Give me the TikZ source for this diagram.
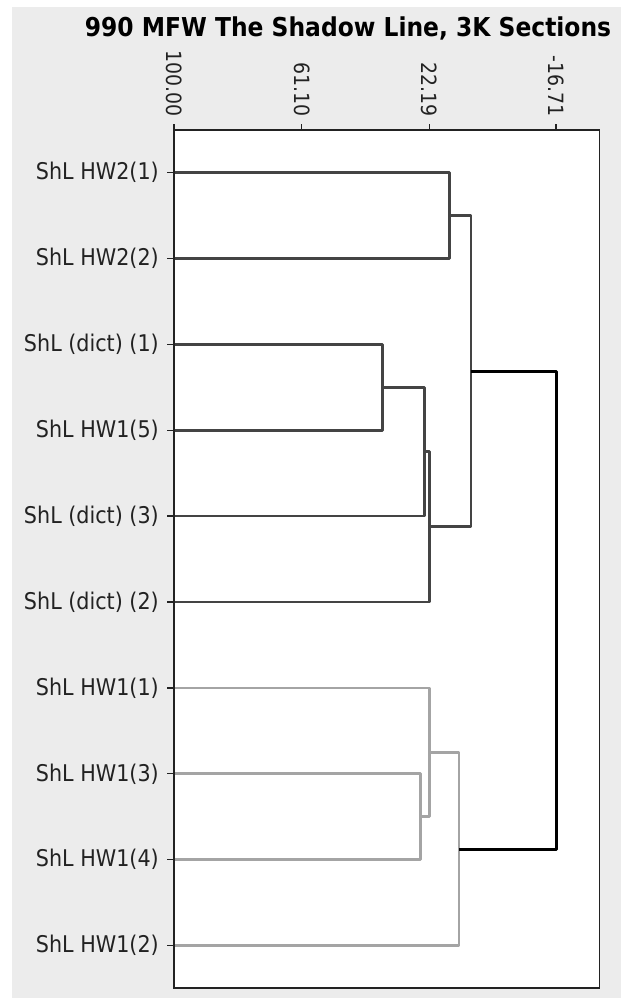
\documentclass[tikz,border=0pt]{standalone}
\usepackage{fontspec}
\newfontfamily\labfont[FakeStretch=0.9]{DejaVu Sans}
\definecolor{bg}{HTML}{ECECEC}
\definecolor{dk}{HTML}{444444}
\definecolor{lt}{HTML}{A4A4A4}
\definecolor{txt}{HTML}{222222}
\begin{document}
\begin{tikzpicture}[x=1pt,y=-1pt,
  lbl/.style={anchor=east, inner sep=0pt, text=txt, font=\labfont\fontsize{23}{23}\selectfont},
  axl/.style={rotate=-90, anchor=east, inner sep=0pt, text=txt, font=\labfont\fontsize{21}{21}\selectfont},
  ttl/.style={anchor=base, inner sep=0pt, text=black, font=\labfont\bfseries\fontsize{26}{26}\selectfont},
  dklink/.style={draw=dk, line width=2.7pt, line join=round},
  ltlink/.style={draw=lt, line width=2.7pt, line join=round},
  rootlink/.style={draw=black, line width=3pt, line join=round},
  tickline/.style={draw=txt, line width=1.3pt},
  frame/.style={draw=txt, line width=1.5pt}]
\useasboundingbox (0,0) rectangle (621,998);
\fill[white] (0,0) rectangle (621,998);
\fill[bg] (12,7) rectangle (621,998);
\fill[white] (174,130) rectangle (599.5,988);

% title
\node[ttl] (title) at (348,37) {990 MFW The Shadow Line, 3K Sections};

% axis labels and ticks
\foreach \xx/\vv/\nn in {174/100.00/t1, 301.7/61.10/t2, 429.3/22.19/t3, 556/-16.71/t4} {
  \node[axl] (\nn) at (\xx,117) {\vv};
  \draw[tickline] (\xx,124) -- (\xx,130);
}

% leaves
\foreach \i/\yy/\txt in {1/172.5/ShL HW2(1), 2/258.4/ShL HW2(2), 3/344.3/ShL (dict) (1),
  4/430.2/ShL HW1(5), 5/516.1/ShL (dict) (3), 6/602/ShL (dict) (2), 7/687.9/ShL HW1(1),
  8/773.8/ShL HW1(3), 9/859.7/ShL HW1(4), 10/945.6/ShL HW1(2)} {
  \coordinate (l\i) at (174,\yy);
  \node[lbl] (n\i) at (159,\yy) {\txt};
  \draw[tickline] (167,\yy) -- (l\i);
}

% merge points
\coordinate (A) at (449.2,215.45);
\coordinate (C) at (382.7,387.25);
\coordinate (D) at (424.2,451.7);
\coordinate (E) at (429.4,526.8);
\coordinate (B) at (470.9,371.1);
\coordinate (F) at (420.3,816.75);
\coordinate (G) at (429.4,752.3);
\coordinate (H) at (459,849);
\coordinate (R) at (556.8,610);

\draw[dklink] (l1) -| (A) |- (l2);
\draw[dklink] (l3) -| (C) |- (l4);
\draw[dklink] (C) -| (D) |- (l5);
\draw[dklink] (D) -| (E) |- (l6);
\draw[dklink] (A) -| (B) |- (E);
\draw[ltlink] (l8) -| (F) |- (l9);
\draw[ltlink] (l7) -| (G) |- (F);
\draw[ltlink] (G) -| (H) |- (l10);
\draw[rootlink] (B) -| (R) |- (H);

% frame
\draw[frame] (174,130) rectangle (599.5,988);
\end{tikzpicture}
\end{document}
